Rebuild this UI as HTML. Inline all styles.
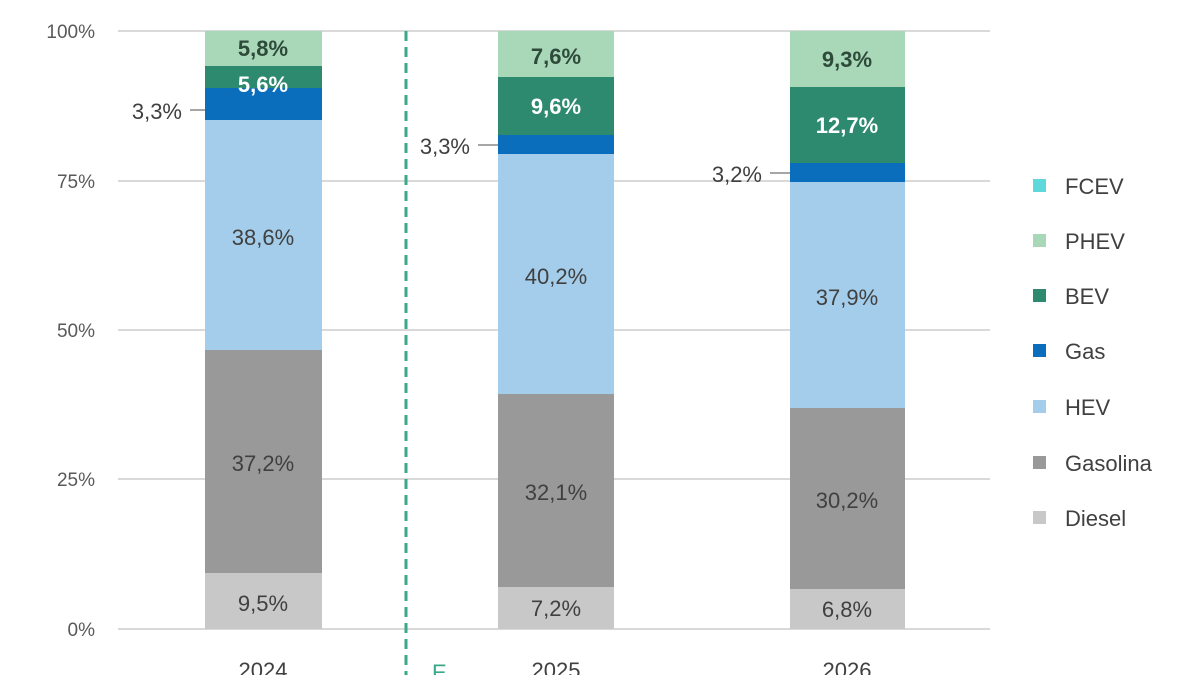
<!DOCTYPE html>
<html><head><meta charset="utf-8"><style>
body{margin:0;background:#fff;}
svg{display:block;font-family:"Liberation Sans",sans-serif;}
</style></head><body>
<svg width="1200" height="675" viewBox="0 0 1200 675">
<g stroke="#d9d9d9" stroke-width="2">
<line x1="118" x2="990" y1="31" y2="31"/><line x1="118" x2="990" y1="181" y2="181"/>
<line x1="118" x2="990" y1="330" y2="330"/><line x1="118" x2="990" y1="479" y2="479"/>
<line x1="118" x2="990" y1="629" y2="629"/>
</g>
<g fill="#595959" font-size="19" text-anchor="end">
<text x="95" y="38">100%</text><text x="95" y="188">75%</text><text x="95" y="337">50%</text>
<text x="95" y="486">25%</text><text x="95" y="636">0%</text>
</g>
<rect x="205" y="573" width="117" height="56" fill="#c8c8c8"/>
<rect x="205" y="350" width="117" height="223" fill="#999"/>
<rect x="205" y="120" width="117" height="230" fill="#a3cdea"/>
<rect x="205" y="88" width="117" height="32" fill="#0a6ebd"/>
<rect x="205" y="66" width="117" height="22" fill="#2e8a6e"/>
<rect x="205" y="31" width="117" height="35" fill="#a9d8b8"/>
<rect x="498" y="587" width="116" height="42" fill="#c8c8c8"/>
<rect x="498" y="394" width="116" height="193" fill="#999"/>
<rect x="498" y="154" width="116" height="240" fill="#a3cdea"/>
<rect x="498" y="135" width="116" height="19" fill="#0a6ebd"/>
<rect x="498" y="77" width="116" height="58" fill="#2e8a6e"/>
<rect x="498" y="31" width="116" height="46" fill="#a9d8b8"/>
<rect x="790" y="589" width="115" height="40" fill="#c8c8c8"/>
<rect x="790" y="408" width="115" height="181" fill="#999"/>
<rect x="790" y="182" width="115" height="226" fill="#a3cdea"/>
<rect x="790" y="163" width="115" height="19" fill="#0a6ebd"/>
<rect x="790" y="87" width="115" height="76" fill="#2e8a6e"/>
<rect x="790" y="31" width="115" height="56" fill="#a9d8b8"/>
<line x1="406" x2="406" y1="31" y2="675" stroke="#3aa88a" stroke-width="3" stroke-dasharray="10,6"/>
<g font-size="22" text-anchor="middle" fill="#404040">
<text x="263" y="611">9,5%</text><text x="263" y="471">37,2%</text><text x="263" y="245">38,6%</text>
<text x="556" y="616">7,2%</text><text x="556" y="500">32,1%</text><text x="556" y="284">40,2%</text>
<text x="847" y="617">6,8%</text><text x="847" y="508">30,2%</text><text x="847" y="305">37,9%</text>
<text x="263" y="678">2024</text><text x="556" y="678">2025</text><text x="847" y="678">2026</text>
</g>
<g font-size="22" text-anchor="middle" font-weight="bold">
<text x="263" y="56" fill="#2e4a3a">5,8%</text><text x="263" y="92" fill="#fff">5,6%</text>
<text x="556" y="64" fill="#2e4a3a">7,6%</text><text x="556" y="114" fill="#fff">9,6%</text>
<text x="847" y="67" fill="#2e4a3a">9,3%</text><text x="847" y="133" fill="#fff">12,7%</text>
</g>
<g font-size="22" fill="#404040" text-anchor="end">
<text x="182" y="119">3,3%</text><text x="470" y="154">3,3%</text><text x="762" y="182">3,2%</text>
</g>
<g stroke="#888" stroke-width="1.5">
<line x1="190" x2="205" y1="110" y2="110"/><line x1="478" x2="498" y1="145" y2="145"/><line x1="770" x2="790" y1="173" y2="173"/>
</g>
<text x="432" y="680" font-size="22" fill="#3aa88a">E</text>
<g font-size="22" fill="#404040">
<rect x="1033" y="179" width="13" height="13" fill="#5fd8dc"/><text x="1065" y="194">FCEV</text>
<rect x="1033" y="234" width="13" height="13" fill="#a9d8b8"/><text x="1065" y="249">PHEV</text>
<rect x="1033" y="289" width="13" height="13" fill="#2e8a6e"/><text x="1065" y="304">BEV</text>
<rect x="1033" y="344" width="13" height="13" fill="#0a6ebd"/><text x="1065" y="359">Gas</text>
<rect x="1033" y="400" width="13" height="13" fill="#a3cdea"/><text x="1065" y="415">HEV</text>
<rect x="1033" y="456" width="13" height="13" fill="#999"/><text x="1065" y="471">Gasolina</text>
<rect x="1033" y="511" width="13" height="13" fill="#c8c8c8"/><text x="1065" y="526">Diesel</text>
</g>
</svg>
</body></html>
